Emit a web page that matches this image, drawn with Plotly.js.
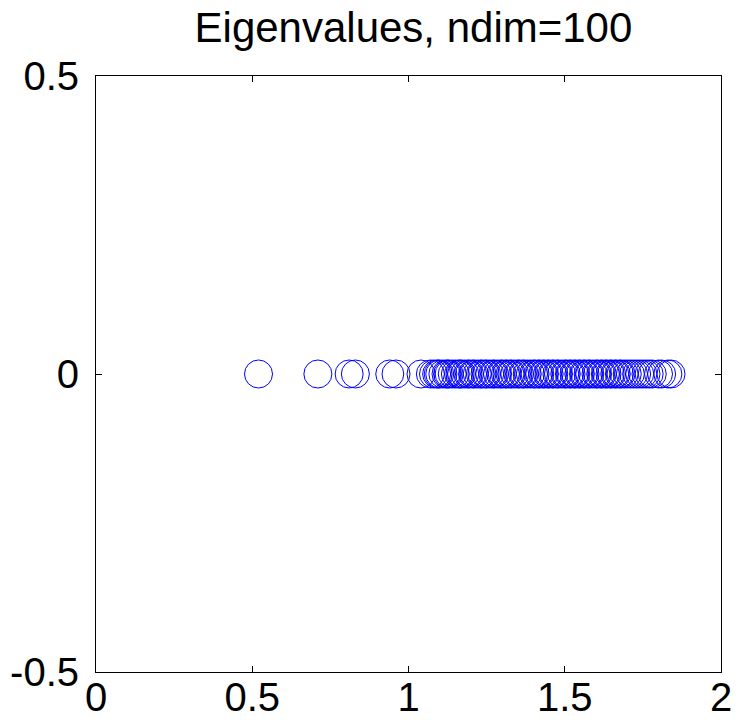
<!DOCTYPE html>
<html><head><meta charset="utf-8">
<script src="https://cdn.plot.ly/plotly-3.0.1.min.js"></script>
<style>html,body{margin:0;padding:0;background:#fff}</style>
</head><body>
<div id="chart" style="width:749px;height:725px"></div>
<script>
const realParts = [
  0.52, 0.71, 0.81, 0.83, 0.94, 0.96, 1.04, 1.07, 1.08, 1.09, 1.095, 1.10,
  1.11, 1.12, 1.125, 1.13, 1.14, 1.15, 1.16, 1.165, 1.17, 1.18, 1.19, 1.195,
  1.205, 1.21, 1.22, 1.23, 1.235, 1.245, 1.25, 1.26, 1.27, 1.275, 1.285, 1.295,
  1.30, 1.31, 1.315, 1.325, 1.33, 1.34, 1.35, 1.355, 1.365, 1.37, 1.38, 1.39,
  1.40, 1.405, 1.415, 1.42, 1.43, 1.435, 1.445, 1.45, 1.46, 1.465, 1.475, 1.48, 1.49,
  1.50, 1.505, 1.515, 1.52, 1.53, 1.535, 1.545, 1.55, 1.56, 1.565, 1.575, 1.58, 1.59,
  1.60, 1.605, 1.615, 1.62, 1.63, 1.635, 1.645, 1.65, 1.66, 1.665, 1.675, 1.68, 1.69,
  1.70, 1.71, 1.72, 1.73, 1.74, 1.75, 1.76, 1.77, 1.78, 1.80, 1.81, 1.83, 1.84
];
const imagParts = realParts.map(() => 0);
const xTicks = [0, 0.5, 1, 1.5, 2];
const xTickLabels = ['0', '0.5', '1', '1.5', '2'];
const yTicks = [-0.5, 0, 0.5];
const yTickLabels = ['-0.5', '0', '0.5'];

const font = 'Liberation Sans, Arial, sans-serif';
Plotly.newPlot('chart', [{
  x: realParts, y: imagParts, type: 'scatter', mode: 'markers',
  marker: {symbol: 'circle-open', size: 28, color: '#0000ff', line: {width: 1, color: '#0000ff'}},
  hoverinfo: 'skip'
}], {
  width: 749, height: 725,
  margin: {l: 96, r: 28, t: 76, b: 53},
  paper_bgcolor: '#fff', plot_bgcolor: '#fff',
  showlegend: false,
  title: {text: 'Eigenvalues, ndim=100', font: {family: font, size: 42, color: '#000'}, x: 0.552, xanchor: 'center', y: 0.962, yanchor: 'middle'},
  xaxis: {range: [0, 2], tickvals: xTicks, ticktext: xTickLabels, ticks: 'inside', ticklen: 6, tickcolor: '#000',
    showline: true, mirror: 'ticks', linecolor: '#000', linewidth: 1, showgrid: false, zeroline: false,
    ticklabelstandoff: -10,
    tickfont: {family: font, size: 40, color: '#000'}},
  yaxis: {range: [-0.5, 0.5], tickvals: yTicks, ticktext: yTickLabels, ticks: 'inside', ticklen: 6, tickcolor: '#000',
    showline: true, mirror: 'ticks', linecolor: '#000', linewidth: 1, showgrid: false, zeroline: false,
    ticklabelstandoff: 8,
    tickfont: {family: font, size: 40, color: '#000'}}
}, {staticPlot: true});
</script>
</body></html>
